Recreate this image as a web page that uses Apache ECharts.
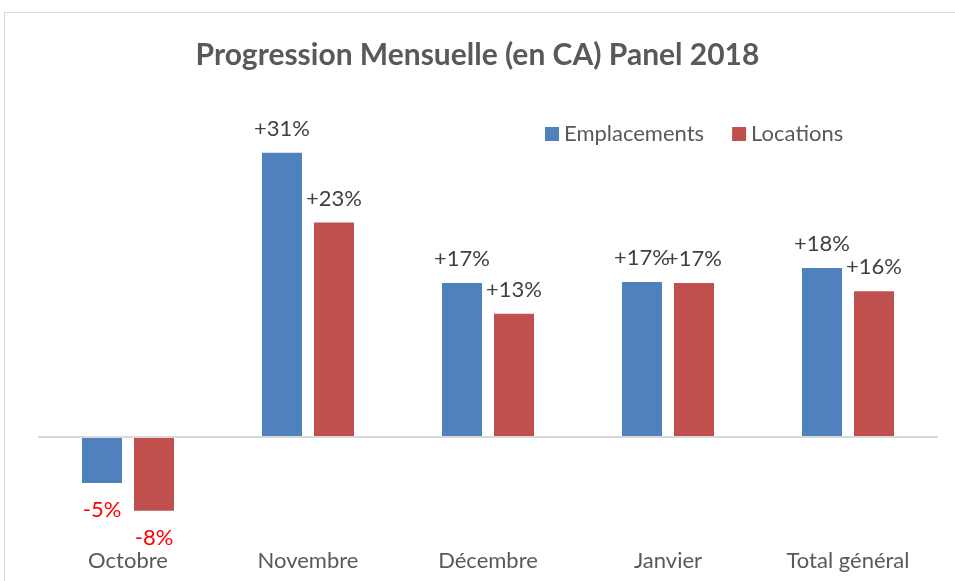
<!DOCTYPE html>
<html>
<head>
<meta charset="utf-8">
<script src="https://cdn.jsdelivr.net/npm/echarts@6/dist/echarts.min.js"></script>
<style>
  html, body { margin: 0; padding: 0; background: #fff; overflow: hidden; }
  #frame { position: absolute; left: 4px; top: 12px; width: 1000px; height: 700px; border: 1px solid #d9d9d9; }
  #chart { position: absolute; left: 0; top: 0; width: 955px; height: 581px; }
</style>
</head>
<body>
<div id="frame"></div>
<div id="chart"></div>
<script>
const categories = ["Octobre", "Novembre", "Décembre", "Janvier", "Total général"];
const emplacements = [-5.0, 31.0, 16.8, 16.9, 18.45];
const locations = [-8.0, 23.4, 13.45, 16.8, 15.9];
const seriesNames = ["Emplacements", "Locations"];
const font = "Lato, 'Open Sans', sans-serif";

const fmt = (v) => (v > 0 ? "+" : "") + Math.round(v) + "%";
const toItems = (arr) =>
  arr.map((v) =>
    v < 0
      ? { value: v, label: { position: "bottom", distance: 16, color: "#ff0000" } }
      : { value: v }
  );

const labelStyle = {
  show: true,
  position: "top",
  distance: 13,
  fontSize: 22,
  fontFamily: font,
  color: "#404040",
  formatter: (p) => fmt(p.value),
};

const chart = echarts.init(document.getElementById("chart"));
chart.setOption({
  animation: false,
  title: {
    text: "Progression Mensuelle (en CA) Panel 2018",
    left: "center",
    top: 35,
    textStyle: { fontSize: 30, fontWeight: "bold", color: "#595959", fontFamily: font },
  },
  legend: {
    data: seriesNames,
    left: 540,
    top: 118,
    itemWidth: 14,
    itemHeight: 14,
    itemGap: 28,
    icon: "rect",
    textStyle: { fontSize: 22, color: "#595959", fontFamily: font },
  },
  grid: { left: 38, right: 17, top: 116, bottom: 52 },
  xAxis: {
    type: "category",
    data: categories,
    axisLine: { show: false, onZero: false },
    axisTick: { show: false },
    axisLabel: { fontSize: 22, color: "#595959", fontFamily: font, margin: 21 },
  },
  yAxis: {
    type: "value",
    min: -10,
    max: 35,
    interval: 5,
    show: false,
    splitLine: { show: false },
  },
  series: [
    {
      name: seriesNames[0],
      type: "bar",
      data: toItems(emplacements),
      barWidth: 40,
      barGap: "30%",
      itemStyle: { color: "#4f81bd" },
      label: labelStyle,
      markLine: {
        silent: true,
        symbol: "none",
        label: { show: false },
        lineStyle: { color: "#d9d9d9", width: 2, type: "solid" },
        data: [{ yAxis: 0 }],
      },
    },
    {
      name: seriesNames[1],
      type: "bar",
      data: toItems(locations),
      barWidth: 40,
      itemStyle: { color: "#c0504d" },
      label: labelStyle,
    },
  ],
});
</script>
</body>
</html>
